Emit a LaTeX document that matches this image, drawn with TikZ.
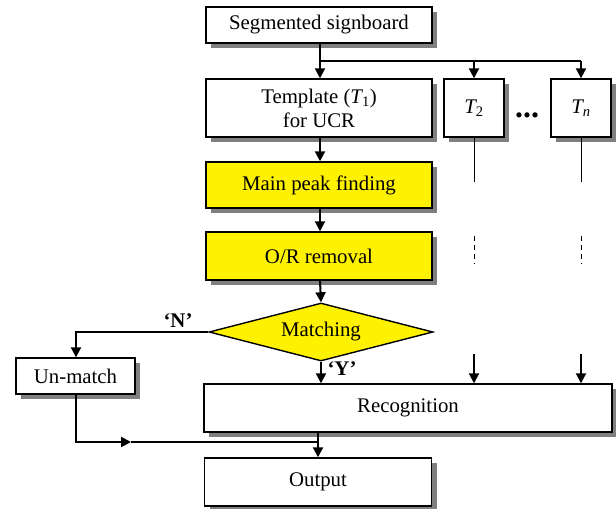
\documentclass[tikz,border=0pt]{standalone}
\usepackage{fontspec}
\setmainfont{Liberation Serif}
\usetikzlibrary{arrows.meta,shapes.geometric}
\begin{document}
\begin{tikzpicture}[x=1pt,y=-1pt,
  font=\fontsize{20.8}{24}\selectfont,
  box/.style={draw=black, line width=1.4pt, fill=white, inner sep=0pt, align=center},
  ybox/.style={box, fill=yellow},
  shadowfill/.style={fill=gray},
  ln/.style={line width=2pt},
  thin ln/.style={line width=1pt},
  dash ln/.style={line width=1pt, dash pattern=on 5pt off 4pt},
  arr/.style={line width=2pt, -{Triangle[width=10pt,length=10pt]}},
  lab/.style={inner sep=0pt, font=\fontsize{20.8}{24}\selectfont\bfseries}]
\useasboundingbox (0,0) rectangle (616,509);

% drop shadows (drawn first, behind the boxes)
\fill[shadowfill] (211,12) rectangle (437,48);
\fill[shadowfill] (211,84) rectangle (437,142);
\fill[shadowfill] (449,84) rectangle (509,142);
\fill[shadowfill] (556,84) rectangle (616,142);
\fill[shadowfill] (211,167) rectangle (437,213);
\fill[shadowfill] (211,237) rectangle (437,285);
\fill[shadowfill] (21,363) rectangle (140,399);
\fill[shadowfill] (209,389) rectangle (616,437);
\fill[shadowfill] (209.5,463) rectangle (436.5,509);

% nodes
\node[box, minimum width=226pt, minimum height=36pt] (seg) at (319,25) {Segmented signboard};
\node[box, minimum width=226pt, minimum height=58pt] (tmpl) at (319,108) {Template ({\itshape T}\textsubscript{1})\\for UCR};
\node[box, minimum width=60pt, minimum height=58pt] (t2) at (474,108) {{\itshape T}\textsubscript{2}};
\node[box, minimum width=60pt, minimum height=58pt] (tn) at (581,108) {{\itshape T}\textsubscript{\itshape n}};
\node[inner sep=0pt, anchor=base, font=\fontsize{32}{34}\selectfont\bfseries] (dots) at (527,117) {...};
\node[ybox, minimum width=226pt, minimum height=46pt] (peak) at (319,185) {Main peak finding};
\node[ybox, minimum width=226pt, minimum height=48pt] (orr) at (319,256) {O/R removal};
\node[diamond, draw=black, line width=1.4pt, fill=yellow, inner sep=0pt, aspect=3.86,
      minimum width=224pt, minimum height=58pt] (dia) at (321,332) {Matching};
\node[box, minimum width=119pt, minimum height=36pt] (unm) at (75.5,376) {Un-match};
\node[box, minimum width=408pt, minimum height=48pt] (rec) at (408,408) {Recognition};
\node[box, minimum width=227pt, minimum height=48pt] (out) at (318,482) {Output};

\node[lab] (nlab) at (178,321) {`N'};
\node[lab] (ylab) at (342,369) {`Y'};

% coordinates
\coordinate (br) at (320,61);
\coordinate (brr) at (581,61);
\coordinate (t2e) at (474,182);
\coordinate (tne) at (581,182);
\coordinate (t2da) at (474,236);
\coordinate (t2db) at (474,264);
\coordinate (tnda) at (581,236);
\coordinate (tndb) at (581,264);
\coordinate (t2s) at (474,354);
\coordinate (tns) at (581,354);
\coordinate (nl) at (76,332);
\coordinate (mid) at (131,442);
\coordinate (jn) at (318,442);

% connectors
\draw[ln] (seg.south -| br) -- (br);
\draw[ln] (br) -- (brr);
\draw[arr] (br) -- (tmpl.north -| br);
\draw[arr] (br -| t2) -- (t2.north);
\draw[arr] (brr) -- (tn.north);
\draw[arr] (tmpl.south -| br) -- (peak.north -| br);
\draw[arr] (peak.south -| br) -- (orr.north -| br);
\draw[arr] (orr.south -| br) -- (dia.north);
\draw[arr] (dia.west) -- (nl) -- (unm.north -| nl);
\draw[arr] (dia.south) -- (dia.south |- rec.north);
\draw[thin ln] (t2.south) -- (t2e);
\draw[thin ln] (tn.south) -- (tne);
\draw[dash ln] (t2da) -- (t2db);
\draw[dash ln] (tnda) -- (tndb);
\draw[arr] (t2s) -- (t2s |- rec.north);
\draw[arr] (tns) -- (tns |- rec.north);
\draw[arr] (unm.south -| nl) |- (mid);
\draw[ln] (mid) -- (jn);
\draw[arr] (rec.south -| jn) -- (out.north -| jn);
\end{tikzpicture}
\end{document}
